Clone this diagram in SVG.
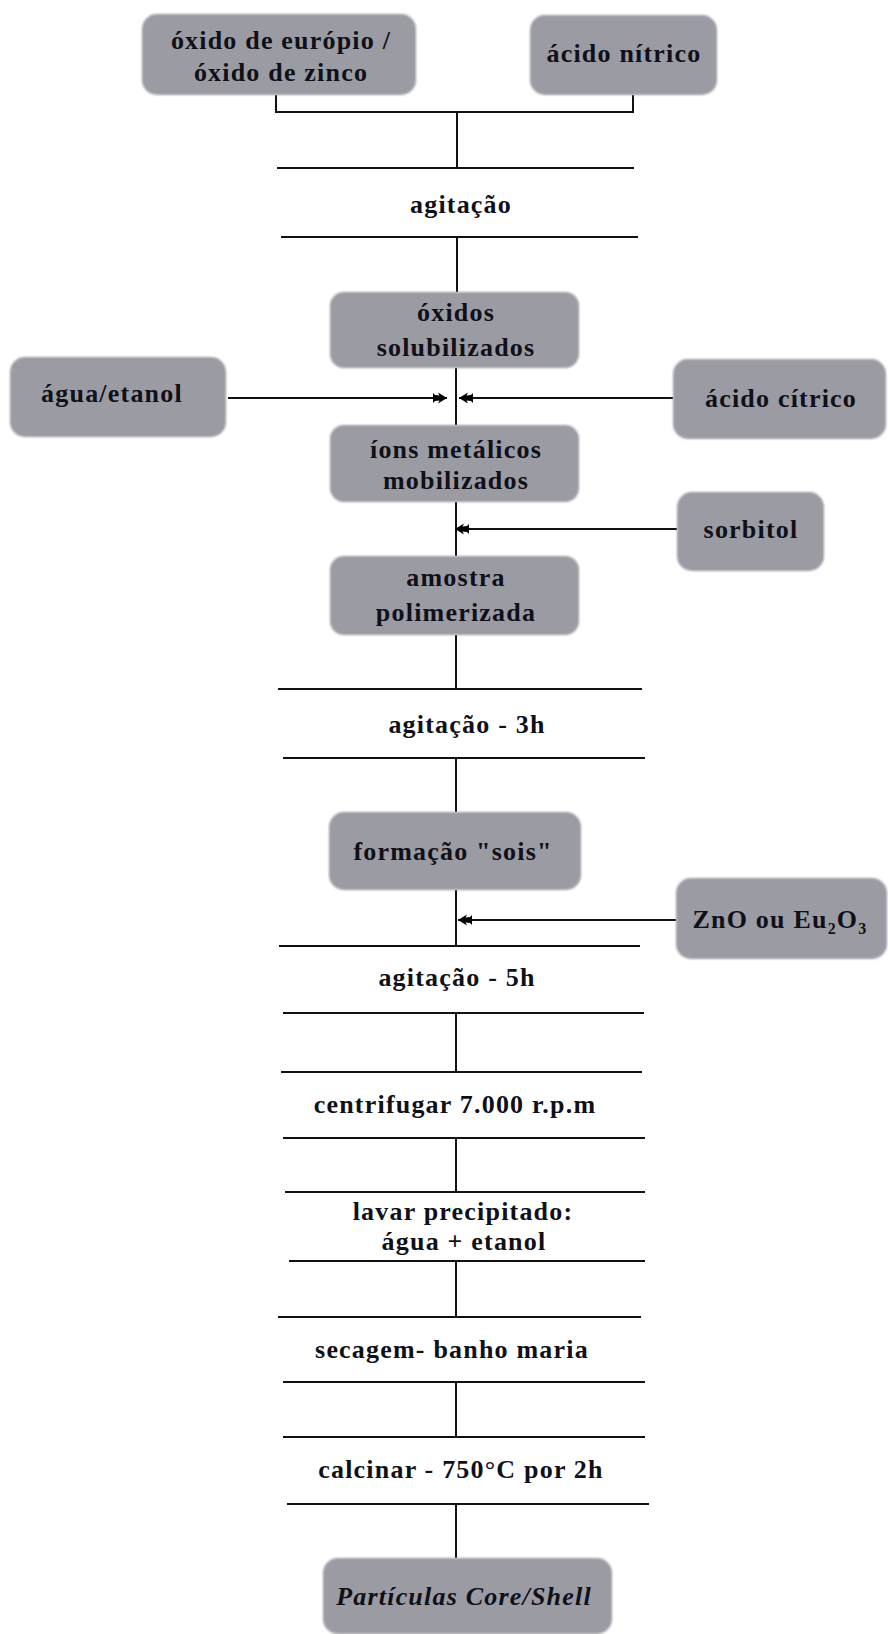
<svg xmlns="http://www.w3.org/2000/svg" width="888" height="1634" viewBox="0 0 888 1634">
<defs>
<filter id="soft" x="-5%" y="-5%" width="110%" height="110%"><feGaussianBlur stdDeviation="1.2"/></filter>
<marker id="arr" markerUnits="userSpaceOnUse" markerWidth="16" markerHeight="12" refX="14" refY="6" orient="auto">
<path d="M14,6 L5,0.5 L6.5,3.5 L2,3 L0,1 L0,11 L2,9 L6.5,8.5 L5,11.5 Z" fill="#000"/>
</marker>
<style>
.box{fill:#9b9ba3;filter:url(#soft);}
.t{font-family:"Liberation Serif","Times New Roman",serif;font-weight:bold;font-size:26px;letter-spacing:1.2px;fill:#101018;text-anchor:middle;}
.i{font-style:italic;}
.ln{stroke:#111;stroke-width:2;fill:none;}
.ar{stroke:#111;stroke-width:2;fill:none;marker-end:url(#arr);}
</style>
</defs>
<rect width="888" height="1634" fill="#ffffff"/>

<g id="connectors">
<path class="ln" d="M276,95 V112 H633 V95"/>
<line class="ln" x1="457" y1="112" x2="457" y2="168"/>
<line class="ln" x1="277" y1="168" x2="634" y2="168"/>
<line class="ln" x1="281" y1="237" x2="638" y2="237"/>
<line class="ln" x1="457" y1="237" x2="457" y2="292"/>
<line class="ln" x1="456" y1="368" x2="456" y2="425"/>
<line class="ar" x1="228" y1="398" x2="447" y2="398"/>
<line class="ar" x1="673" y1="398" x2="459" y2="398"/>
<line class="ln" x1="456" y1="502" x2="456" y2="556"/>
<line class="ar" x1="677" y1="529" x2="455" y2="529"/>
<line class="ln" x1="456" y1="635" x2="456" y2="689"/>
<line class="ln" x1="278" y1="689" x2="642" y2="689"/>
<line class="ln" x1="283" y1="758" x2="645" y2="758"/>
<line class="ln" x1="456" y1="758" x2="456" y2="812"/>
<line class="ln" x1="456" y1="890" x2="456" y2="946"/>
<line class="ar" x1="676" y1="920" x2="458" y2="920"/>
<line class="ln" x1="279" y1="946" x2="640" y2="946"/>
<line class="ln" x1="283" y1="1013" x2="644" y2="1013"/>
<line class="ln" x1="456" y1="1013" x2="456" y2="1072"/>
<line class="ln" x1="281" y1="1072" x2="642" y2="1072"/>
<line class="ln" x1="283" y1="1138" x2="645" y2="1138"/>
<line class="ln" x1="456" y1="1138" x2="456" y2="1192"/>
<line class="ln" x1="285" y1="1192" x2="645" y2="1192"/>
<line class="ln" x1="289" y1="1261" x2="645" y2="1261"/>
<line class="ln" x1="456" y1="1261" x2="456" y2="1317"/>
<line class="ln" x1="278" y1="1317" x2="641" y2="1317"/>
<line class="ln" x1="283" y1="1382" x2="645" y2="1382"/>
<line class="ln" x1="456" y1="1382" x2="456" y2="1437"/>
<line class="ln" x1="283" y1="1437" x2="645" y2="1437"/>
<line class="ln" x1="287" y1="1504" x2="649" y2="1504"/>
<line class="ln" x1="456" y1="1504" x2="456" y2="1558"/>
</g>

<g id="n-oxidos-inicio">
<rect class="box" x="142" y="14" width="274" height="81" rx="15"/>
<text class="t" x="281" y="49">óxido de európio /</text>
<text class="t" x="281" y="81">óxido de zinco</text>
</g>
<g id="n-acido-nitrico">
<rect class="box" x="530" y="15" width="187" height="80" rx="15"/>
<text class="t" x="624" y="62">ácido nítrico</text>
</g>
<g id="n-agitacao">
<text class="t" x="461" y="213">agitação</text>
</g>
<g id="n-oxidos-solub">
<rect class="box" x="330" y="292" width="249" height="76" rx="14"/>
<text class="t" x="456" y="321">óxidos</text>
<text class="t" x="456" y="356">solubilizados</text>
</g>
<g id="n-agua-etanol">
<rect class="box" x="10" y="357" width="216" height="80" rx="15"/>
<text class="t" x="112" y="402">água/etanol</text>
</g>
<g id="n-acido-citrico">
<rect class="box" x="673" y="359" width="213" height="80" rx="15"/>
<text class="t" x="781" y="407">ácido cítrico</text>
</g>
<g id="n-ions">
<rect class="box" x="330" y="425" width="249" height="77" rx="14"/>
<text class="t" x="456" y="458">íons metálicos</text>
<text class="t" x="456" y="489">mobilizados</text>
</g>
<g id="n-sorbitol">
<rect class="box" x="677" y="492" width="147" height="79" rx="15"/>
<text class="t" x="751" y="538">sorbitol</text>
</g>
<g id="n-amostra">
<rect class="box" x="330" y="556" width="249" height="79" rx="14"/>
<text class="t" x="456" y="586">amostra</text>
<text class="t" x="456" y="621">polimerizada</text>
</g>
<g id="n-agitacao-3h">
<text class="t" x="467" y="733">agitação - 3h</text>
</g>
<g id="n-sois">
<rect class="box" x="329" y="812" width="252" height="78" rx="15"/>
<text class="t" x="453" y="860">formação "sois"</text>
</g>
<g id="n-zno">
<rect class="box" x="676" y="878" width="211" height="81" rx="15"/>
<text class="t" x="780" y="928">ZnO ou Eu<tspan font-size="16" dy="6">2</tspan><tspan dy="-6">O</tspan><tspan font-size="16" dy="6">3</tspan></text>
</g>
<g id="n-agitacao-5h">
<text class="t" x="457" y="986">agitação - 5h</text>
</g>
<g id="n-centrifugar">
<text class="t" x="455" y="1113">centrifugar 7.000 r.p.m</text>
</g>
<g id="n-lavar">
<text class="t" x="463" y="1220">lavar precipitado:</text>
<text class="t" x="464" y="1250">água + etanol</text>
</g>
<g id="n-secagem">
<text class="t" x="452" y="1358">secagem- banho maria</text>
</g>
<g id="n-calcinar">
<text class="t" x="461" y="1478">calcinar - 750°C por 2h</text>
</g>
<g id="n-particulas">
<rect class="box" x="323" y="1558" width="289" height="76" rx="15"/>
<text class="t i" x="464" y="1605">Partículas Core/Shell</text>
</g>
</svg>
